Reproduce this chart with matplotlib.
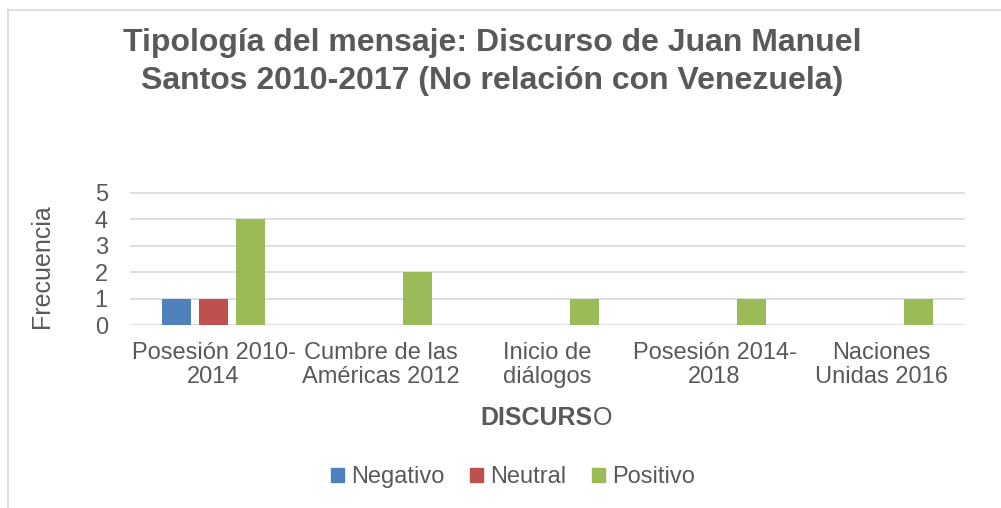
import matplotlib
matplotlib.use("Agg")
import matplotlib.pyplot as plt
import numpy as np
from matplotlib.patches import Patch
from matplotlib.lines import Line2D

# Data
categorias = ["Posesión 2010-\n2014", "Cumbre de las\nAméricas 2012", "Inicio de\ndiálogos",
              "Posesión 2014-\n2018", "Naciones\nUnidas 2016"]
negativo = [1, 0, 0, 0, 0]
neutral = [1, 0, 0, 0, 0]
positivo = [4, 2, 1, 1, 1]
series = ["Negativo", "Neutral", "Positivo"]
colores = ["#4F81BD", "#C0504D", "#9BBB59"]

gris = "#595959"
plt.rcParams['font.family'] = ['Liberation Sans', 'DejaVu Sans']

W, H = 1001, 508
fig = plt.figure(figsize=(W / 100, H / 100), dpi=100)

# chart frame (Excel style)
fig.add_artist(Line2D([8 / W, 1], [1 - 10 / H, 1 - 10 / H], color="#D9D9D9", lw=1.2))
fig.add_artist(Line2D([8 / W, 8 / W], [0, 1 - 10 / H], color="#D9D9D9", lw=1.2))

ax = fig.add_axes([130 / W, 1 - 325 / H, 835 / W, (325 - 191.4) / H])

x = np.arange(len(categorias))
ancho = 0.175
desp = 0.222
for i, (vals, nombre, c) in enumerate(zip([negativo, neutral, positivo], series, colores)):
    xs = x + (i - 1) * desp
    ax.bar(xs, vals, width=ancho, color=c, label=nombre, zorder=3)

ax.set_xlim(-0.5, len(categorias) - 0.5)
ax.set_ylim(0, 5.05)
ax.set_yticks(range(0, 6))
ax.yaxis.grid(True, color="#D9D9D9", lw=1.2, zorder=0)
for s in ax.spines.values():
    s.set_visible(False)
ax.tick_params(axis='both', length=0, labelcolor=gris, labelsize=17)
ax.tick_params(axis='x', pad=12)
ax.tick_params(axis='y', pad=16)
ax.set_xticks(x)
ax.set_xticklabels(categorias, linespacing=1.15)

# title
fig.text(492 / W, 1 - 62 / H,
         "Tipología del mensaje: Discurso de Juan Manuel\nSantos 2010-2017 (No relación con Venezuela)",
         ha='center', va='center', fontsize=23, fontweight='bold', color=gris, linespacing=1.38)

# axis labels
fig.text(42 / W, 1 - 266 / H, "Frecuencia", rotation=90, ha='center', va='center',
         fontsize=18, color=gris)
fig.text(593 / W, 1 - 418 / H, "DISCURS", ha='right', va='center', fontsize=18,
         fontweight='bold', color=gris)
fig.text(593 / W, 1 - 418 / H, "O", ha='left', va='center', fontsize=18, color=gris)

# legend
handles = [Patch(color=c, label=n) for n, c in zip(series, colores)]
leg = fig.legend(handles=handles, loc='center', bbox_to_anchor=(513 / W, 1 - 477 / H), ncol=3,
                 frameon=False, fontsize=17, handlelength=0.55, handleheight=0.55,
                 handletextpad=0.3, columnspacing=1.1)
for t in leg.get_texts():
    t.set_color(gris)

fig.savefig("out.png", dpi=100)
